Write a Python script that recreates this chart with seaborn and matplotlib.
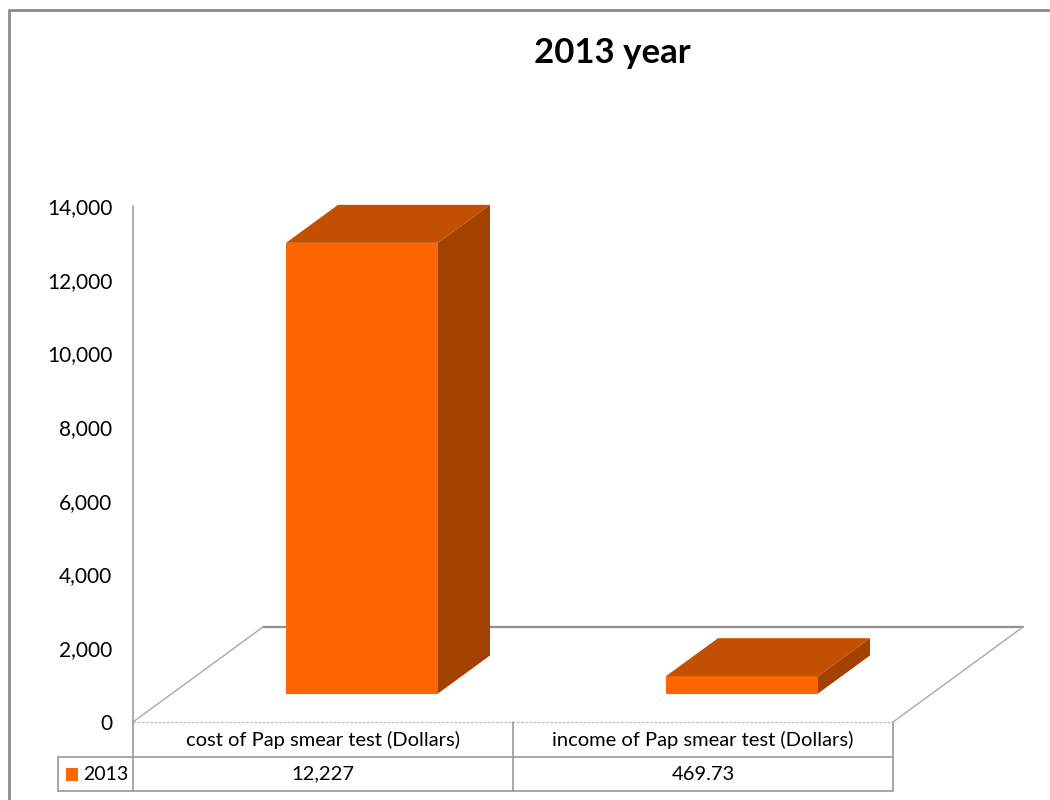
import matplotlib
matplotlib.use("Agg")
import matplotlib.pyplot as plt
from matplotlib.patches import Polygon, Rectangle
from matplotlib.lines import Line2D
import seaborn as sns
import pandas as pd

# ---- data ----
categories = ["cost of Pap smear test (Dollars)", "income of Pap smear test (Dollars)"]
values = [12227, 469.73]
value_labels = ["12,227", "469.73"]
series_name = "2013"
title = "2013 year"
yticks = [0, 2000, 4000, 6000, 8000, 10000, 12000, 14000]

FRONT = "#FF6600"
TOP = "#C35000"
SIDE = "#A34100"
GRID = "#8f8f8f"

sns.set_style("white")
plt.rcParams["font.family"] = ["Lato", "DejaVu Sans"]
plt.rcParams["text.color"] = "black"
plt.rcParams["ytick.color"] = "black"
plt.rcParams["ytick.labelcolor"] = "black"

W, H = 1050, 800
fig = plt.figure(figsize=(W / 100, H / 100), dpi=100)
ax = fig.add_axes([133 / W, 78 / H, 760 / W, 516 / H])

df = pd.DataFrame({"cat": categories, "val": values})
sns.barplot(data=df, x="cat", y="val", color=FRONT, saturation=1, width=0.4,
            linewidth=0, ax=ax, zorder=3)

ax.set_xlim(-0.5, 1.5)
ax.set_ylim(yticks[0], yticks[-1])
ax.set_yticks(yticks)
ax.set_yticklabels([f"{t:,.0f}" for t in yticks], fontsize=15, color="black")
ax.tick_params(axis="y", length=0, pad=15)
ax.set_xticks([])
ax.set_xlabel("")
ax.set_ylabel("")
for s in ["top", "right", "bottom"]:
    ax.spines[s].set_visible(False)
ax.spines["left"].set_color("#a0a0a0")
ax.spines["left"].set_linewidth(1.2)
ax.spines["left"].set_linestyle((0, (2, 1)))

# ---- 3D depth in data units ----
t0 = ax.transData.transform((0, 0))
px_x = ax.transData.transform((1, 0))[0] - t0[0]
px_y = (ax.transData.transform((0, 1000))[1] - t0[1]) / 1000
ddx = 130 / px_x
ddy = 95 / px_y
front_f, depth_f = 0.3, 0.4
sx, sy = front_f * ddx, front_f * ddy
bdx, bdy = depth_f * ddx, depth_f * ddy

x_lo, x_hi = ax.get_xlim()

# floor
ax.add_line(Line2D([x_lo + ddx, x_hi + ddx], [ddy, ddy], color=GRID, lw=1.6,
                   zorder=1, clip_on=False))
ax.add_line(Line2D([x_lo, x_lo + ddx], [0, ddy], color="#a8a8a8", lw=1.0,
                   zorder=1, clip_on=False))
ax.add_line(Line2D([x_hi, x_hi + ddx], [0, ddy], color="#a8a8a8", lw=1.0,
                   zorder=1, clip_on=False))
ax.add_line(Line2D([x_lo, x_hi], [0, 0], color="#c4c4c4", lw=1.0,
                   linestyle=(0, (2, 1)), zorder=1, clip_on=False))

# bars: shift front faces back and add top/side faces
for p in list(ax.patches):
    x0 = p.get_x() + sx
    y0 = p.get_y() + sy
    w, h = p.get_width(), p.get_height()
    p.set_x(x0)
    p.set_y(y0)
    p.set_clip_on(False)
    top = Polygon([(x0, y0 + h), (x0 + w, y0 + h), (x0 + w + bdx, y0 + h + bdy),
                   (x0 + bdx, y0 + h + bdy)], closed=True, facecolor=TOP,
                  edgecolor="none", zorder=3, clip_on=False)
    side = Polygon([(x0 + w, y0), (x0 + w + bdx, y0 + bdy),
                    (x0 + w + bdx, y0 + h + bdy), (x0 + w, y0 + h)], closed=True,
                   facecolor=SIDE, edgecolor="none", zorder=3, clip_on=False)
    ax.add_patch(top)
    ax.add_patch(side)

# ---- data table ----
row_h1 = -35 / 516      # header row bottom (axes fraction)
row_h2 = -69 / 516      # data row bottom
leg_left = -75 / 760
tcol = "#9a9a9a"
ta = ax.transAxes
ax.add_line(Line2D([0, 1], [row_h1, row_h1], color=tcol, lw=1.2, transform=ta, clip_on=False))
ax.add_line(Line2D([leg_left, 1], [row_h2, row_h2], color=tcol, lw=1.2, transform=ta, clip_on=False))
ax.add_line(Line2D([leg_left, 0], [row_h1, row_h1], color=tcol, lw=1.2, transform=ta, clip_on=False))
for xv in [0, 0.5, 1]:
    ax.add_line(Line2D([xv, xv], [0, row_h2], color=tcol, lw=1.2, transform=ta, clip_on=False))
ax.add_line(Line2D([leg_left, leg_left], [row_h1, row_h2], color=tcol, lw=1.2, transform=ta, clip_on=False))

bt = matplotlib.transforms.blended_transform_factory(ax.transData, ta)
for i, (c, v) in enumerate(zip(categories, value_labels)):
    ax.text(i, row_h1 / 2, c, transform=bt, ha="center", va="center", fontsize=14.5)
    ax.text(i, (row_h1 + row_h2) / 2, v, transform=bt, ha="center", va="center", fontsize=14.5)

ax.add_patch(Rectangle((-67 / 760, (row_h1 + row_h2) / 2 - 6.5 / 516), 12 / 760, 13 / 516,
                       transform=ta, facecolor=FRONT, edgecolor="none", clip_on=False))
ax.text(-50 / 760, (row_h1 + row_h2) / 2, series_name, transform=ta, ha="left",
        va="center", fontsize=14)

# ---- title & frame ----
fig.text(612 / W, 1 - 53 / H, title, ha="center", va="center", fontsize=25,
         fontweight="bold", color="black")
fig.add_artist(Line2D([9 / W, 9 / W], [0, 1 - 10 / H], color="#8c8c8c", lw=2,
                      transform=fig.transFigure))
fig.add_artist(Line2D([9 / W, 1], [1 - 10 / H, 1 - 10 / H], color="#8c8c8c", lw=2,
                      transform=fig.transFigure))

fig.savefig("out.png", dpi=100)
